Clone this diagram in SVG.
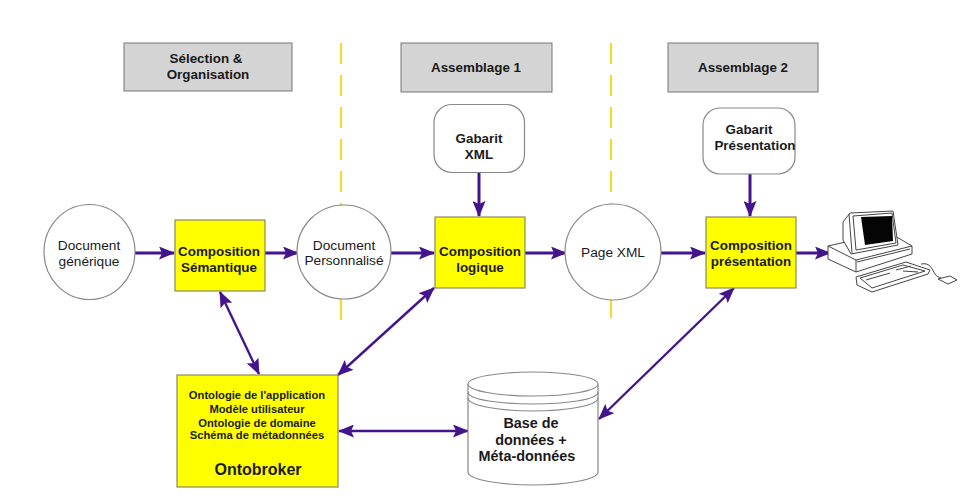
<svg xmlns="http://www.w3.org/2000/svg" width="971" height="500" viewBox="0 0 971 500">
<style>
text{font-family:"Liberation Sans",Arial,sans-serif;fill:#1a1a1a;text-anchor:middle}
.b{font-weight:bold;font-size:13.4px}
.o{font-weight:bold;font-size:11.2px}
.m{font-weight:bold;font-size:14.4px}
.r{font-size:13.7px}
.hdr{fill:#d4d4d4;stroke:#777;stroke-width:1}
.y{fill:#ffff00;stroke:#8a8a60;stroke-width:1.2}
.c{fill:#fff;stroke:#888;stroke-width:1.2}
.l{fill:none;stroke:#888;stroke-width:1.2}
.dash{stroke:#f5d838;stroke-width:2.2;stroke-dasharray:21 11;fill:none}
.a{stroke:#44148c;stroke-width:3;fill:none;marker-end:url(#ah)}
.d{stroke:#44148c;stroke-width:2.4;fill:none;marker-end:url(#ah);marker-start:url(#as)}
.k{fill:#fff;stroke:#444;stroke-width:1}
.n{fill:none;stroke:#444;stroke-width:1}
</style>
<defs>
<marker id="ah" viewBox="0 0 16 13" refX="15" refY="6.500" markerWidth="16" markerHeight="13" markerUnits="userSpaceOnUse" orient="auto"><path d="M0 0L16 6.500L0 13L3 6.500z" fill="#44148c"/></marker>
<marker id="as" viewBox="0 0 16 13" refX="1" refY="6.500" markerWidth="16" markerHeight="13" markerUnits="userSpaceOnUse" orient="auto"><path d="M16 0L0 6.500L16 13L13 6.500z" fill="#44148c"/></marker>
</defs>
<rect width="971" height="500" fill="#fff"/>
<g id="dividers">
<path class="dash" d="M341 43V320"/>
<path class="dash" d="M611 43V318"/>
</g>
<g id="header-selection"><rect class="hdr" x="124" y="43" width="168" height="48"/><text class="b" x="206" y="63">Sélection &amp;</text><text class="b" x="208" y="79">Organisation</text></g>
<g id="header-assemblage1"><rect class="hdr" x="401" y="43" width="151" height="49"/><text class="b" x="476" y="72">Assemblage 1</text></g>
<g id="header-assemblage2"><rect class="hdr" x="668" y="43" width="150" height="49"/><text class="b" x="743" y="72">Assemblage 2</text></g>
<g id="connectors">
<path class="a" d="M135 253H174"/>
<path class="a" d="M265 253H298"/>
<path class="a" d="M389 253H434"/>
<path class="a" d="M525 253H566"/>
<path class="a" d="M660 253H705"/>
<path class="a" d="M796 253H830"/>
<path class="a" d="M479 172V216"/>
<path class="a" d="M750 174V216"/>
<path class="d" d="M220 292L259 374"/>
<path class="d" d="M434 288L338 375"/>
<path class="d" d="M339 431H468"/>
<path class="d" d="M734 288L599 419"/>
</g>
<g id="gabarit-xml"><rect class="c" x="434" y="104.500" width="90.500" height="68" rx="18"/><text class="b" x="479" y="143">Gabarit</text><text class="b" x="479" y="159">XML</text></g>
<g id="gabarit-presentation"><rect class="c" x="703" y="108" width="92" height="66" rx="17"/><text class="b" x="749" y="134">Gabarit</text><text class="b" x="755" y="150">Présentation</text></g>
<g id="document-generique"><ellipse class="c" cx="89.500" cy="252" rx="45.500" ry="47.500"/><text class="r" x="89" y="250">Document</text><text class="r" x="89" y="266">générique</text></g>
<g id="composition-semantique"><rect class="y" x="175" y="220" width="90" height="71"/><text class="b" x="219" y="256">Composition</text><text class="b" x="219" y="272">Sémantique</text></g>
<g id="document-personnalise"><circle class="c" cx="344" cy="252" r="47"/><text class="r" x="344" y="250">Document</text><text class="r" x="344" y="265">Personnalisé</text></g>
<g id="composition-logique"><rect class="y" x="435" y="217" width="90" height="71"/><text class="b" x="480" y="256">Composition</text><text class="b" x="480" y="272">logique</text></g>
<g id="page-xml"><circle class="c" cx="613" cy="252" r="48"/><text class="r" x="613" y="257">Page XML</text></g>
<g id="composition-presentation"><rect class="y" x="706" y="217" width="90" height="71"/><text class="b" x="751" y="250">Composition</text><text class="b" x="751" y="266">présentation</text></g>
<g id="ontobroker"><rect class="y" x="177" y="375" width="161" height="112"/><text class="o" x="257" y="399">Ontologie de l'application</text><text class="o" x="257" y="413">Modèle utilisateur</text><text class="o" x="257" y="427">Ontologie de domaine</text><text class="o" x="257" y="439">Schéma de métadonnées</text><text class="b" style="font-size:16px" x="258" y="475">Ontobroker</text></g>
<g id="database"><path class="c" d="M468 384V472C468 480 502 485 533 485C564 485 598 480 598 472V384"/><ellipse class="c" cx="533" cy="384" rx="65" ry="12"/><path class="l" d="M468 392C468 400 502 404 533 404C564 404 598 400 598 392M468 398C468 406 502 411 533 411C564 411 598 406 598 398"/><text class="m" x="531" y="428">Base de</text><text class="m" x="531" y="445">données +</text><text class="m" x="527" y="461">Méta-données</text></g>
<g id="computer">
<path class="k" d="M828 246L868 237L895 236L912 246L912 254L856 272L828 259Z"/>
<path class="n" d="M828 246L856 260V272M856 260L912 246M857 262L910 249"/>
<path class="k" d="M843 222L850 213L893 211L898 245L851 254L843 240Z"/>
<path class="n" d="M849 214L852 253M853 216L892 213L896 243L856 250Z"/>
<path d="M861 217L892 216L893 241L865 245Z" fill="#050505"/>
<path class="k" d="M856 277L906 262L930 270L928 274L872 292L857 285Z"/>
<path class="n" d="M860 278L903 265L925 271L872 288ZM866 280L890 273M896 270L911 266M903 271L918 272"/>
<path class="n" d="M921 264C931 262 932 270 935 274C937 277 939 277 941 278"/>
<path class="k" d="M938 279L950 276L957 280L948 284Z"/>
</g>
</svg>
